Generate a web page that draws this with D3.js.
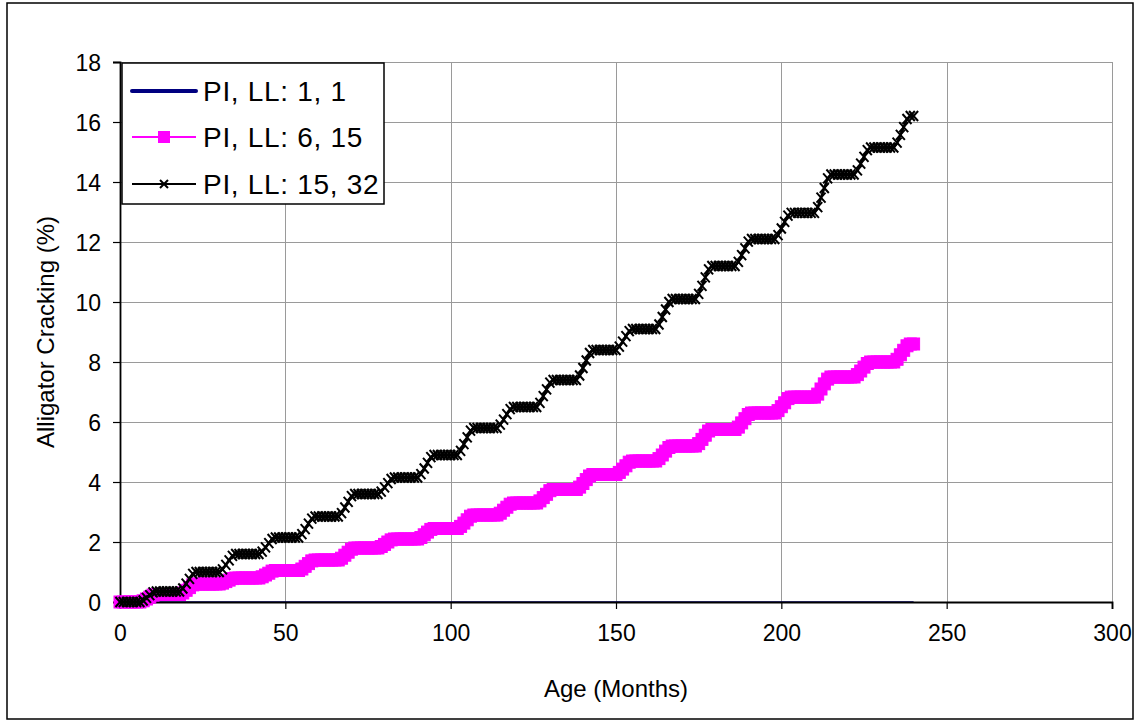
<!DOCTYPE html>
<html>
<head>
<meta charset="utf-8">
<script src="https://cdn.jsdelivr.net/npm/d3@7"></script>
<style>
  html, body { margin: 0; padding: 0; background: #fff; }
  svg { display: block; }
  text { font-family: "Liberation Sans", Arial, sans-serif; fill: #000; }
</style>
</head>
<body>
<svg id="chart" width="1136" height="723"></svg>
<script>
// ---- Data ----
const seriesNames = ["PI, LL: 1, 1", "PI, LL: 6, 15", "PI, LL: 15, 32"];
const months = d3.range(0, 241);
const xTicks = [0, 50, 100, 150, 200, 250, 300];
const yTicks = [0, 2, 4, 6, 8, 10, 12, 14, 16, 18];

const crackPI1 = [
  0,0,0,0,0,0,0,0,0,0,0,0,
  0,0,0,0,0,0,0,0,0,0,0,0,
  0,0,0,0,0,0,0,0,0,0,0,0,
  0,0,0,0,0,0,0,0,0,0,0,0,
  0,0,0,0,0,0,0,0,0,0,0,0,
  0,0,0,0,0,0,0,0,0,0,0,0,
  0,0,0,0,0,0,0,0,0,0,0,0,
  0,0,0,0,0,0,0,0,0,0,0,0,
  0,0,0,0,0,0,0,0,0,0,0,0,
  0,0,0,0,0,0,0,0,0,0,0,0,
  0,0,0,0,0,0,0,0,0,0,0,0,
  0,0,0,0,0,0,0,0,0,0,0,0,
  0,0,0,0,0,0,0,0,0,0,0,0,
  0,0,0,0,0,0,0,0,0,0,0,0,
  0,0,0,0,0,0,0,0,0,0,0,0,
  0,0,0,0,0,0,0,0,0,0,0,0,
  0,0,0,0,0,0,0,0,0,0,0,0,
  0,0,0,0,0,0,0,0,0,0,0,0,
  0,0,0,0,0,0,0,0,0,0,0,0,
  0,0,0,0,0,0,0,0,0,0,0,0,
  0
];

const crackPI6 = [
  0,0,0,0,0,0,0, 0.04,0.10,0.16,0.23, 0.25,
  0.25,0.25,0.25,0.25,0.25,0.25,0.25, 0.30,0.39,0.48,0.57, 0.60,
  0.60,0.60,0.60,0.60,0.60,0.60,0.60, 0.63,0.68,0.73,0.78, 0.80,
  0.80,0.80,0.80,0.80,0.80,0.80,0.80, 0.84,0.90,0.96,1.03, 1.05,
  1.05,1.05,1.05,1.05,1.05,1.05,1.05, 1.10,1.19,1.28,1.37, 1.40,
  1.40,1.40,1.40,1.40,1.40,1.40,1.40, 1.46,1.56,1.66,1.76, 1.80,
  1.80,1.80,1.80,1.80,1.80,1.80,1.80, 1.85,1.92,2.00,2.07, 2.10,
  2.10,2.10,2.10,2.10,2.10,2.10,2.10, 2.15,2.24,2.33,2.42, 2.45,
  2.45,2.45,2.45,2.45,2.45,2.45,2.45, 2.52,2.63,2.74,2.86, 2.90,
  2.90,2.90,2.90,2.90,2.90,2.90,2.90, 2.96,3.06,3.16,3.26, 3.30,
  3.30,3.30,3.30,3.30,3.30,3.30,3.30, 3.37,3.48,3.59,3.71, 3.75,
  3.75,3.75,3.75,3.75,3.75,3.75,3.75, 3.83,3.95,4.08,4.20, 4.25,
  4.25,4.25,4.25,4.25,4.25,4.25,4.25, 4.32,4.43,4.54,4.66, 4.70,
  4.70,4.70,4.70,4.70,4.70,4.70,4.70, 4.78,4.90,5.03,5.15, 5.20,
  5.20,5.20,5.20,5.20,5.20,5.20,5.20, 5.28,5.42,5.56,5.70, 5.75,
  5.75,5.75,5.75,5.75,5.75,5.75,5.75, 5.83,5.97,6.11,6.25, 6.30,
  6.30,6.30,6.30,6.30,6.30,6.30,6.30, 6.38,6.51,6.64,6.78, 6.83,
  6.83,6.83,6.83,6.83,6.83,6.83,6.83, 6.93,7.10,7.27,7.43, 7.50,
  7.50,7.50,7.50,7.50,7.50,7.50,7.50, 7.58,7.70,7.83,7.95, 8.00,
  8.00,8.00,8.00,8.00,8.00,8.00,8.00, 8.09,8.24,8.39,8.54, 8.60,
  8.60
];

const crackPI15 = [
  0,0,0,0,0,0,0, 0.05,0.14,0.23,0.32, 0.35,
  0.35,0.35,0.35,0.35,0.35,0.35,0.35, 0.45,0.61,0.77,0.94, 1.00,
  1.00,1.00,1.00,1.00,1.00,1.00,1.00, 1.09,1.24,1.39,1.54, 1.60,
  1.60,1.60,1.60,1.60,1.60,1.60,1.60, 1.68,1.82,1.96,2.10, 2.15,
  2.15,2.15,2.15,2.15,2.15,2.15,2.15, 2.26,2.43,2.61,2.78, 2.85,
  2.85,2.85,2.85,2.85,2.85,2.85,2.85, 2.96,3.15,3.34,3.53, 3.60,
  3.60,3.60,3.60,3.60,3.60,3.60,3.60, 3.68,3.82,3.96,4.10, 4.15,
  4.15,4.15,4.15,4.15,4.15,4.15,4.15, 4.26,4.45,4.64,4.83, 4.90,
  4.90,4.90,4.90,4.90,4.90,4.90,4.90, 5.04,5.26,5.49,5.71, 5.80,
  5.80,5.80,5.80,5.80,5.80,5.80,5.80, 5.91,6.08,6.26,6.43, 6.50,
  6.50,6.50,6.50,6.50,6.50,6.50,6.50, 6.64,6.86,7.09,7.31, 7.40,
  7.40,7.40,7.40,7.40,7.40,7.40,7.40, 7.55,7.80,8.05,8.30, 8.40,
  8.40,8.40,8.40,8.40,8.40,8.40,8.40, 8.51,8.68,8.86,9.03, 9.10,
  9.10,9.10,9.10,9.10,9.10,9.10,9.10, 9.25,9.50,9.75,10.00, 10.10,
  10.10,10.10,10.10,10.10,10.10,10.10,10.10, 10.27,10.54,10.82,11.09, 11.20,
  11.20,11.20,11.20,11.20,11.20,11.20,11.20, 11.34,11.56,11.79,12.01, 12.10,
  12.10,12.10,12.10,12.10,12.10,12.10,12.10, 12.23,12.45,12.67,12.88, 12.97,
  12.97,12.97,12.97,12.97,12.97,12.97,12.97, 13.16,13.48,13.80,14.12, 14.25,
  14.25,14.25,14.25,14.25,14.25,14.25,14.25, 14.39,14.61,14.84,15.06, 15.15,
  15.15,15.15,15.15,15.15,15.15,15.15,15.15, 15.31,15.57,15.83,16.10, 16.20,
  16.20
];

// ---- Layout ----
const svg = d3.select("#chart");
const plot = { left: 120, right: 1112, top: 62, bottom: 602 };

const x = d3.scaleLinear().domain([0, 300]).range([plot.left, plot.right]);
const y = d3.scaleLinear().domain([0, 18]).range([plot.bottom, plot.top]);

// outer border
svg.append("rect").attr("x", 7).attr("y", 3).attr("width", 1126).attr("height", 716)
  .attr("fill", "#fff").attr("stroke", "#000").attr("stroke-width", 1.5);

// plot background
svg.append("rect").attr("x", plot.left).attr("y", plot.top)
  .attr("width", plot.right - plot.left).attr("height", plot.bottom - plot.top)
  .attr("fill", "#fff");

// grid lines
const grid = svg.append("g").attr("stroke", "#9a9a9a").attr("stroke-width", 1);
yTicks.forEach(t => {
  grid.append("line").attr("x1", plot.left).attr("x2", plot.right)
    .attr("y1", Math.round(y(t)) + 0.5).attr("y2", Math.round(y(t)) + 0.5);
});
xTicks.forEach(t => {
  grid.append("line").attr("y1", plot.top).attr("y2", plot.bottom)
    .attr("x1", Math.round(x(t)) + 0.5).attr("x2", Math.round(x(t)) + 0.5);
});

// series 1 (all zero) lies on the axis
const lineGen = vals => d3.line().x((d, i) => x(months[i])).y(d => y(d))(vals);
svg.append("path").attr("d", lineGen(crackPI1)).attr("fill", "none")
  .attr("stroke", "#000080").attr("stroke-width", 1.5);

// axes
const xAxis = d3.axisBottom(x).tickValues(xTicks).tickSize(7).tickPadding(16);
const yAxis = d3.axisLeft(y).tickValues(yTicks).tickSize(7).tickPadding(12);

const gx = svg.append("g").attr("transform", `translate(0,${plot.bottom})`).call(xAxis);
const gy = svg.append("g").attr("transform", `translate(${plot.left},0)`).call(yAxis);
[gx, gy].forEach(g => {
  g.select(".domain").attr("stroke", "#000").attr("stroke-width", 1.8);
  g.selectAll(".tick line").attr("stroke", "#000").attr("stroke-width", 1.2);
  g.selectAll(".tick text").style("font-family", "Liberation Sans, Arial, sans-serif")
    .style("font-size", "23px").attr("fill", "#000");
});
gy.selectAll(".tick text").attr("dy", "0.36em");

// magenta series
svg.append("path").attr("d", lineGen(crackPI6)).attr("fill", "none")
  .attr("stroke", "#FF00FF").attr("stroke-width", 2);
svg.append("g").selectAll("rect").data(crackPI6).join("rect")
  .attr("x", (d, i) => x(months[i]) - 6).attr("y", d => y(d) - 6)
  .attr("width", 12).attr("height", 12)
  .attr("fill", "#FF00FF").attr("stroke", "#FF00FF").attr("stroke-width", 1);

// black series
svg.append("path").attr("d", lineGen(crackPI15)).attr("fill", "none")
  .attr("stroke", "#000").attr("stroke-width", 2.5);
svg.append("g").selectAll("path").data(crackPI15).join("path")
  .attr("transform", (d, i) => `translate(${x(months[i])},${y(d)})`)
  .attr("d", "M-4.5,-5L4.5,5M-4.5,5L4.5,-5")
  .attr("stroke", "#000").attr("stroke-width", 2).attr("fill", "none");

// axis titles
svg.append("text").attr("x", (plot.left + plot.right) / 2).attr("y", 688)
  .attr("text-anchor", "middle").attr("dominant-baseline", "central")
  .style("font-size", "24px").text("Age (Months)");
svg.append("text").attr("transform", `translate(45,${(plot.top + plot.bottom) / 2}) rotate(-90)`)
  .attr("text-anchor", "middle").attr("dominant-baseline", "central")
  .style("font-size", "24px").text("Alligator Cracking (%)");

// legend
const lg = svg.append("g");
lg.append("rect").attr("x", 122).attr("y", 63).attr("width", 262).attr("height", 141)
  .attr("fill", "#fff").attr("stroke", "#000").attr("stroke-width", 1.5);
const rowY = [91, 137, 184];
lg.append("line").attr("x1", 132).attr("x2", 196).attr("y1", rowY[0]).attr("y2", rowY[0])
  .attr("stroke", "#000080").attr("stroke-width", 4).attr("stroke-linecap", "round");
lg.append("line").attr("x1", 132).attr("x2", 196).attr("y1", rowY[1]).attr("y2", rowY[1])
  .attr("stroke", "#FF00FF").attr("stroke-width", 2);
lg.append("rect").attr("x", 158).attr("y", rowY[1] - 6).attr("width", 12).attr("height", 12)
  .attr("fill", "#FF00FF");
lg.append("line").attr("x1", 132).attr("x2", 196).attr("y1", rowY[2]).attr("y2", rowY[2])
  .attr("stroke", "#000").attr("stroke-width", 2);
lg.append("path").attr("transform", `translate(164,${rowY[2]})`)
  .attr("d", "M-4,-4L4,4M-4,4L4,-4").attr("stroke", "#000").attr("stroke-width", 2);
seriesNames.forEach((n, i) => {
  lg.append("text").attr("x", 203).attr("y", rowY[i]).attr("dominant-baseline", "central")
    .style("font-size", "28px").style("letter-spacing", "0.7px").text(n);
});
</script>
</body>
</html>
